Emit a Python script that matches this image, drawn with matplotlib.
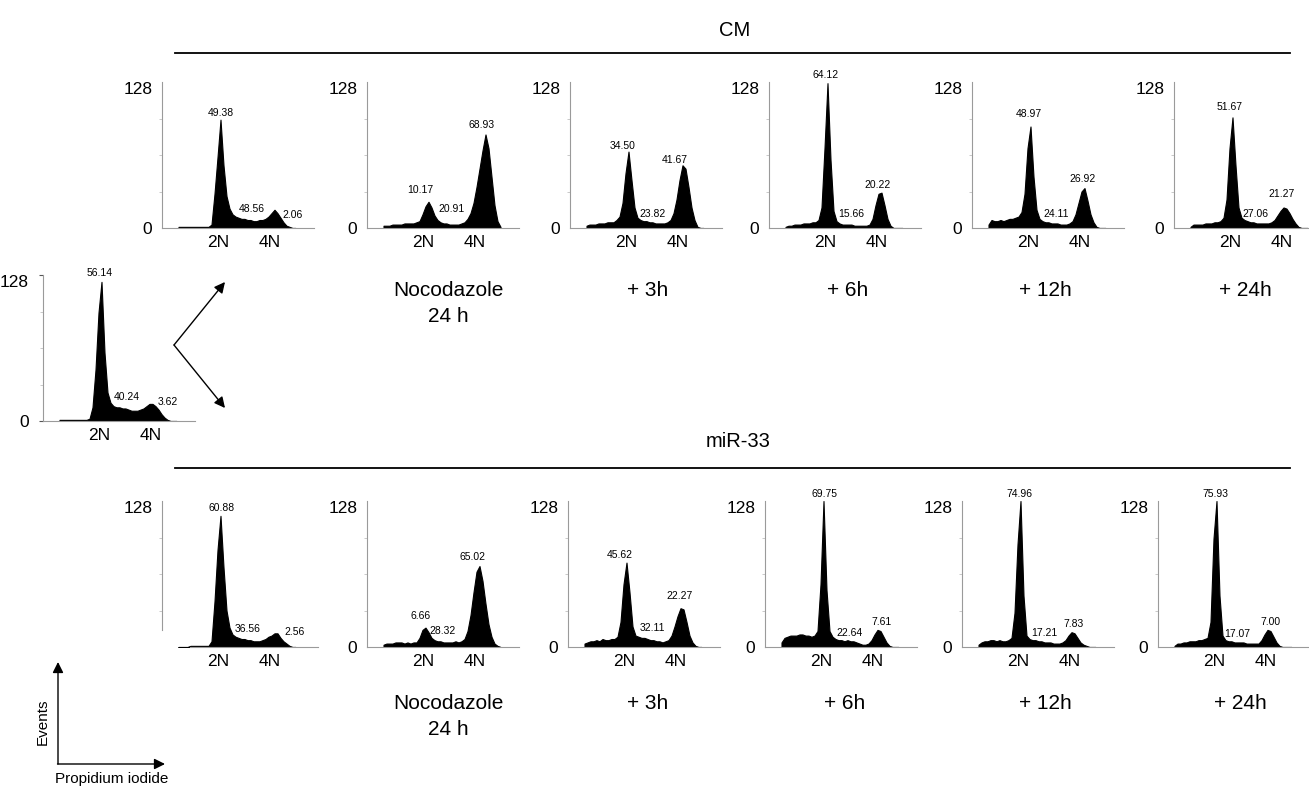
import numpy as np
import matplotlib.pyplot as plt

plt.rcParams['font.family'] = ['Liberation Sans', 'DejaVu Sans']

W, H = 1309, 789

# propidium iodide channel bins, 3 channels each
edges = np.arange(15, 136, 3)
centers = (edges[:-1] + edges[1:]) / 2

# events per bin
ctrl_counts = [1, 1, 1, 1, 1, 1, 1, 1, 1, 1, 2, 12, 45, 95, 122, 60, 25, 16, 13, 12,
               12, 11, 11, 10, 9, 9, 9, 10, 11, 13, 15, 15, 13, 10, 6, 3, 1, 0, 0, 0]

cm_counts = [
    [1, 1, 1, 1, 1, 1, 1, 1, 1, 1, 1, 3, 30, 62, 95, 55, 28, 17, 12, 10,
     9, 8, 8, 7, 7, 6, 6, 7, 7, 8, 10, 13, 16, 13, 9, 5, 2, 1, 0, 0],
    [2, 2, 2, 3, 3, 3, 3, 4, 4, 4, 4, 5, 6, 12, 19, 23, 18, 11, 7, 5,
     4, 4, 3, 3, 3, 3, 4, 5, 8, 13, 22, 36, 52, 68, 82, 70, 45, 20, 6, 1],
    [2, 3, 3, 3, 4, 4, 4, 5, 5, 5, 7, 10, 22, 48, 67, 42, 18, 9, 7, 6,
     6, 5, 5, 4, 4, 4, 4, 5, 7, 13, 25, 42, 55, 52, 36, 18, 7, 1, 0, 0],
    [1, 2, 2, 3, 3, 3, 4, 4, 4, 5, 5, 7, 18, 70, 127, 60, 15, 6, 4, 3,
     3, 3, 3, 2, 2, 2, 2, 2, 3, 8, 20, 30, 31, 20, 8, 2, 0, 0, 0, 0],
    [3, 7, 6, 6, 7, 6, 7, 8, 8, 9, 10, 14, 30, 70, 89, 45, 16, 8, 6, 5,
     5, 4, 4, 4, 3, 3, 3, 4, 6, 12, 22, 32, 35, 24, 12, 5, 1, 0, 0, 0],
    [1, 3, 3, 3, 3, 4, 4, 4, 5, 5, 6, 9, 25, 70, 97, 55, 18, 9, 7, 6,
     5, 5, 4, 4, 4, 4, 4, 5, 7, 11, 15, 18, 17, 13, 8, 4, 1, 0, 0, 0],
]

mir_counts = [
    [0, 0, 0, 0, 1, 1, 1, 1, 1, 1, 1, 5, 40, 85, 115, 70, 32, 17, 11, 9,
     8, 7, 7, 6, 6, 5, 5, 5, 6, 7, 9, 10, 12, 12, 8, 5, 3, 1, 0, 0],
    [2, 3, 3, 3, 4, 4, 4, 3, 4, 3, 4, 4, 8, 15, 17, 13, 8, 6, 5, 5,
     4, 4, 4, 4, 5, 4, 5, 7, 14, 28, 48, 66, 71, 58, 38, 20, 9, 3, 1, 0],
    [3, 4, 5, 5, 6, 5, 7, 6, 6, 7, 7, 9, 22, 55, 74, 48, 18, 10, 9, 8,
     8, 7, 6, 6, 5, 5, 4, 5, 6, 10, 18, 27, 34, 33, 22, 10, 4, 1, 0, 0],
    [4, 8, 9, 10, 10, 10, 11, 11, 10, 10, 9, 10, 14, 55, 128, 50, 14, 9, 7, 6,
     6, 5, 6, 5, 5, 4, 3, 2, 2, 3, 6, 11, 15, 14, 9, 4, 1, 0, 0, 0],
    [2, 4, 5, 5, 6, 6, 5, 6, 5, 5, 6, 8, 30, 90, 128, 45, 10, 7, 6, 6,
     5, 5, 4, 4, 4, 3, 3, 3, 4, 6, 10, 13, 12, 8, 4, 2, 1, 0, 0, 0],
    [1, 3, 3, 4, 4, 5, 5, 5, 6, 6, 7, 8, 22, 95, 128, 45, 10, 6, 5, 5,
     4, 4, 4, 4, 3, 3, 3, 3, 3, 6, 11, 15, 14, 9, 4, 1, 0, 0, 0, 0],
]

# % G1, S, G2/M
ctrl_pct = ['56.14', '40.24', '3.62']
cm_pct = [['49.38', '48.56', '2.06'], ['10.17', '20.91', '68.93'],
          ['34.50', '23.82', '41.67'], ['64.12', '15.66', '20.22'],
          ['48.97', '24.11', '26.92'], ['51.67', '27.06', '21.27']]
mir_pct = [['60.88', '36.56', '2.56'], ['6.66', '28.32', '65.02'],
           ['45.62', '32.11', '22.27'], ['69.75', '22.64', '7.61'],
           ['74.96', '17.21', '7.83'], ['75.93', '17.07', '7.00']]

times = ['', 'Nocodazole\n24 h', '+ 3h', '+ 6h', '+ 12h', '+ 24h']

# layout (pixels): axis origin of each panel, label spots in data units
cm_x = [162, 367, 570, 769, 972, 1174]
mir_x = [162, 367, 568, 765, 962, 1158]
cm_y0, mir_y0 = 228, 647
cm_spots = [[(59, 101), (90, 17), (131, 11)], [(53, 33), (85, 17), (115, 90)],
            [(53, 72), (83, 12), (105, 60)], [(57, 134), (82, 12), (109, 38)],
            [(57, 100), (84, 12), (111, 43)], [(56, 106), (81, 12), (108, 30)]]
mir_spots = [[(60, 122), (86, 16), (133, 13)], [(54, 27), (76, 14), (106, 79)],
             [(52, 81), (84, 17), (112, 45)], [(59, 134), (85, 12), (117, 22)],
             [(57, 134), (82, 12), (112, 20)], [(57, 134), (79, 11), (112, 22)]]
ctrl_spots = [(57, 130), (84, 21), (125, 17)]
cm_time_x = [0, 448, 648, 848, 1045, 1245]
mir_time_x = [0, 448, 648, 845, 1045, 1240]

AXC = '#9a9a9a'

fig = plt.figure(figsize=(W / 100, H / 100), dpi=100)

over = fig.add_axes([0, 0, 1, 1])
over.set_xlim(0, W)
over.set_ylim(H, 0)
over.axis('off')


def panel(x0, y0, counts, pct, spots, broken=False, tick128=0):
    ax = fig.add_axes([x0 / W, 1 - y0 / H, 152 / W, 146 / H])
    ax.fill_between(centers, counts, color='black', lw=0.8)
    ax.set_xlim(0, 152)
    ax.set_ylim(0, 128)
    ax.patch.set_alpha(0)
    for s in ['top', 'right']:
        ax.spines[s].set_visible(False)
    for s in ['left', 'bottom']:
        ax.spines[s].set_color(AXC)
        ax.spines[s].set_linewidth(0.8)
    ax.set_xticks([56, 108], ['2N', '4N'])
    ax.tick_params(axis='x', length=0, labelsize=12.5, pad=5)
    ax.set_yticks([32, 64, 96], minor=True)
    if broken:
        ax.spines['left'].set_visible(False)
        ax.spines['bottom'].set_visible(False)
        ax.plot([0, 0], [15, 128], color=AXC, lw=0.8, clip_on=False)
        ax.plot([28, 156], [0, 0], color=AXC, lw=0.8, clip_on=False)
        ax.set_yticks([128], ['128'])
    else:
        ax.set_yticks([0, 128], ['0', '128'])
    ax.tick_params(axis='y', which='major', length=tick128, color='#555555',
                   labelsize=12.5, pad=7)
    ax.tick_params(axis='y', which='minor', length=2, color='#c0c0c0', width=0.6)
    for lab in ax.get_yticklabels():
        if lab.get_text() == '128':
            lab.set_va('top')
    for txt, (sx, sy) in zip(pct, spots):
        ax.text(sx, sy, txt, ha='center', va='center', fontsize=7.5,
                clip_on=False)
    return ax


panel(43, 421, ctrl_counts, ctrl_pct, ctrl_spots, tick128=3)
for i in range(6):
    panel(cm_x[i], cm_y0, cm_counts[i], cm_pct[i], cm_spots[i])
    panel(mir_x[i], mir_y0, mir_counts[i], mir_pct[i], mir_spots[i],
          broken=(i == 0))
    if times[i]:
        over.text(cm_time_x[i], 281, times[i], ha='center', va='top',
                  fontsize=15, linespacing=1.45)
        over.text(mir_time_x[i], 694, times[i], ha='center', va='top',
                  fontsize=15, linespacing=1.45)

# group headers
over.text(735, 30, 'CM', ha='center', va='center', fontsize=14.5)
over.plot([175, 1290], [53, 53], color='black', lw=1.3)
over.text(738, 441, 'miR-33', ha='center', va='center', fontsize=14.5)
over.plot([175, 1290], [468, 468], color='black', lw=1.3)

# split arrows from the starting population
arrow = dict(arrowstyle='-|>', color='black', lw=1.0, mutation_scale=16,
             shrinkA=0, shrinkB=0)
over.annotate('', xy=(225, 282), xytext=(174, 345), arrowprops=arrow)
over.annotate('', xy=(225, 408), xytext=(174, 345), arrowprops=arrow)

# axis key
over.annotate('', xy=(58, 662), xytext=(58, 764), arrowprops=arrow)
over.annotate('', xy=(165, 764), xytext=(57.5, 764), arrowprops=arrow)
over.text(43, 722, 'Events', rotation=90, ha='center', va='center', fontsize=11)
over.text(112, 779, 'Propidium iodide', ha='center', va='center', fontsize=11)

fig.savefig('out.png', dpi=100)
